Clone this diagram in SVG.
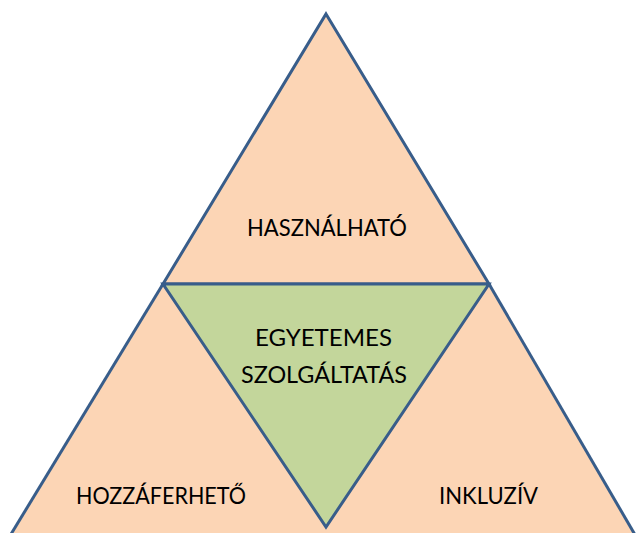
<svg xmlns="http://www.w3.org/2000/svg" width="636" height="533" viewBox="0 0 636 533">
<style>
.peach{fill:#FCD5B5;stroke:#385D8A;stroke-width:3;stroke-linejoin:miter}
.peachfill{fill:#FCD5B5;stroke:none}
.edge{fill:none;stroke:#385D8A;stroke-width:3}
.green{fill:#C3D69B;stroke:#385D8A;stroke-width:3;stroke-linejoin:miter}
text{font-family:"Lato","Open Sans","DejaVu Sans",sans-serif;font-size:24px;fill:#000}
</style>
<rect width="636" height="533" fill="#FFFFFF"/>
<g id="node-hasznalhato">
<polygon class="peach" points="326,14 489,284 163,284"/>
<text x="247" y="236" textLength="160" lengthAdjust="spacingAndGlyphs">HASZNÁLHATÓ</text>
</g>
<g id="node-hozzaferheto">
<polygon class="peachfill" points="163,284 326,527 326,600 -29,600"/>
<polyline class="edge" points="163,284 -29,600"/>
<text x="76" y="504" textLength="170" lengthAdjust="spacingAndGlyphs">HOZZÁFERHETŐ</text>
</g>
<g id="node-inkluziv">
<polygon class="peachfill" points="489,284 673,600 326,600 326,527"/>
<polyline class="edge" points="489,284 673,600"/>
<text x="439" y="504" textLength="99" lengthAdjust="spacingAndGlyphs">INKLUZÍV</text>
</g>
<g id="node-egyetemes">
<polygon class="green" points="163,284 489,284 326,527"/>
<text x="255" y="346" textLength="137" lengthAdjust="spacingAndGlyphs">EGYETEMES</text>
<text x="241" y="383" textLength="166" lengthAdjust="spacingAndGlyphs">SZOLGÁLTATÁS</text>
</g>
<g id="connectors"></g>
</svg>
